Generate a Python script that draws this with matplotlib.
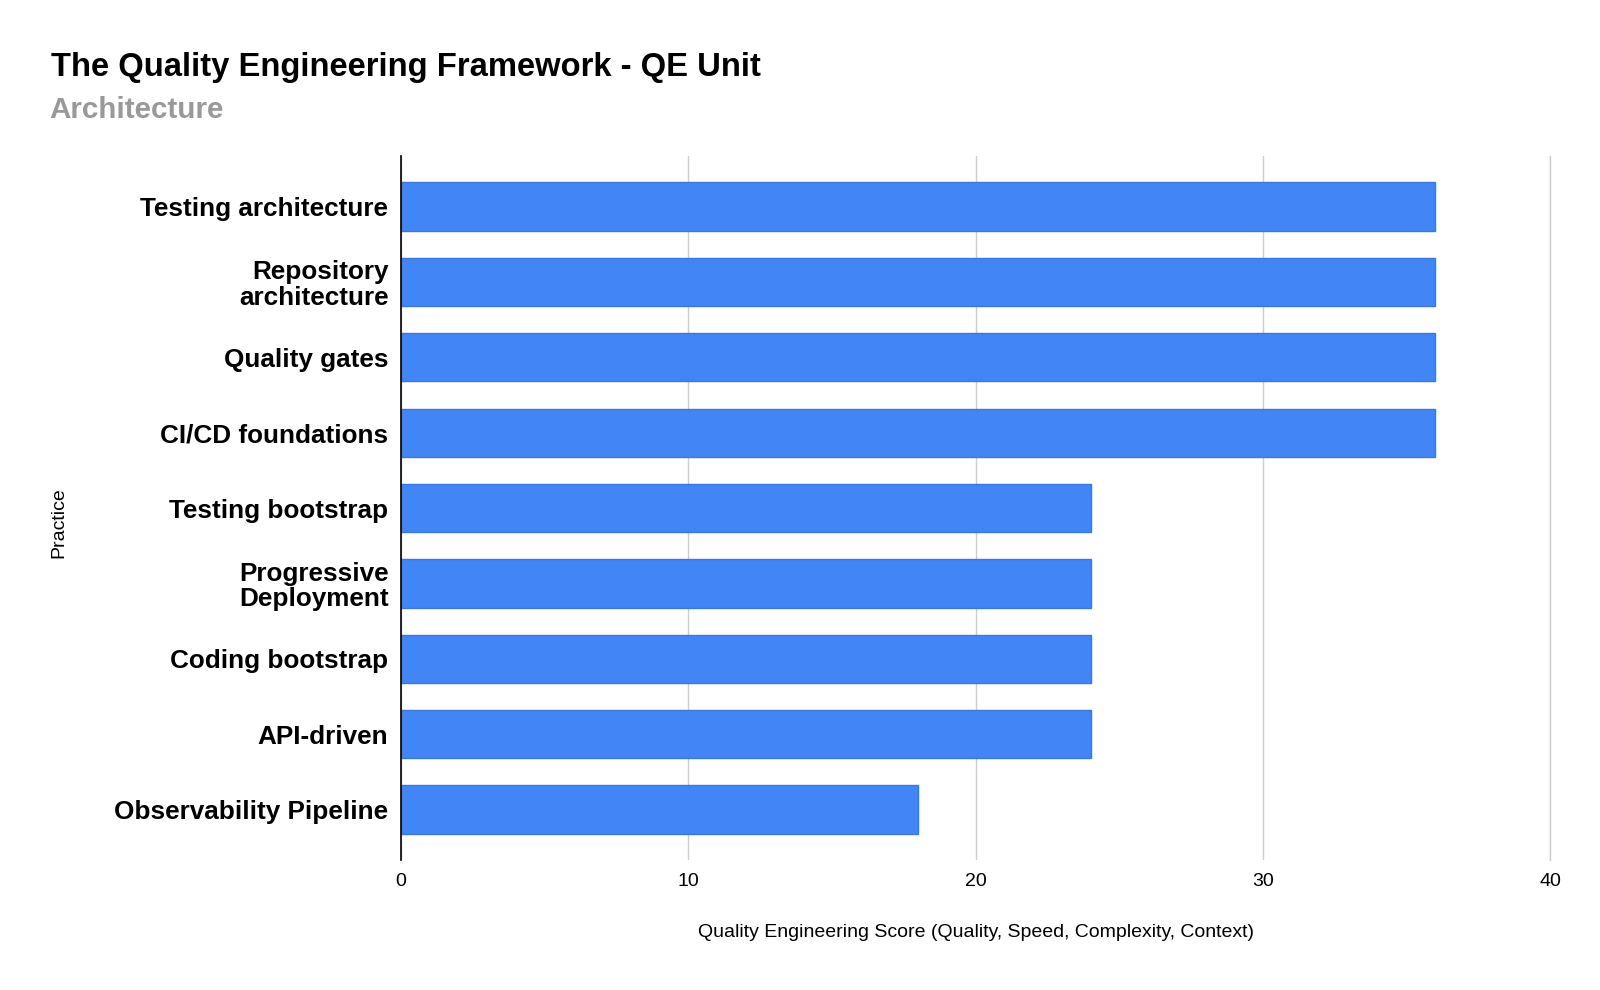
import matplotlib
matplotlib.use("Agg")
import matplotlib.pyplot as plt

plt.rcParams['font.family'] = ['Liberation Sans', 'DejaVu Sans']

# Practices and their scores
practices = [
    "Testing architecture",
    "Repository\narchitecture",
    "Quality gates",
    "CI/CD foundations",
    "Testing bootstrap",
    "Progressive\nDeployment",
    "Coding bootstrap",
    "API-driven",
    "Observability Pipeline",
]
scores = [36, 36, 36, 36, 24, 24, 24, 24, 18]
x_ticks = [0, 10, 20, 30, 40]

fig = plt.figure(figsize=(16, 9.9), dpi=100)
ax = fig.add_axes([0.2506, 0.1313, 0.7184, 0.7111])

ypos = list(range(len(practices)))
ax.barh(ypos, scores, height=0.64, color="#4285F4", edgecolor="#3a78e0",
        linewidth=1, zorder=3)

ax.set_ylim(len(practices) - 1 + 0.67, -0.67)
ax.set_xlim(0, 40)
ax.set_xticks(x_ticks)
ax.set_xticklabels([str(t) for t in x_ticks], fontsize=14)
ax.set_yticks(ypos)
ax.set_yticklabels(practices, fontsize=18.8, fontweight="bold",
                   linespacing=1.08)
ax.tick_params(axis="both", length=0)
ax.tick_params(axis="x", pad=9.5)
ax.tick_params(axis="y", pad=9)

ax.grid(axis="x", color="#cccccc", linewidth=1, zorder=0)
for s in ["top", "bottom"]:
    ax.spines[s].set_visible(False)
ax.spines["right"].set_color("#cccccc")
ax.spines["right"].set_linewidth(1)
ax.spines["left"].set_color("black")
ax.spines["left"].set_linewidth(1.2)
ax.spines["left"].set_zorder(4)

ax.set_xlabel("Quality Engineering Score (Quality, Speed, Complexity, Context)",
              fontsize=14, labelpad=24)
fig.text(0.037, 0.472, "Practice", rotation=90, fontsize=14,
         ha="center", va="center")

fig.text(0.032, 0.932, "The Quality Engineering Framework - QE Unit",
         fontsize=23.6, fontweight="bold", ha="left", va="center")
fig.text(0.031, 0.889, "Architecture", fontsize=21.3, fontweight="bold",
         color="#999999", ha="left", va="center")

fig.savefig("out.png", dpi=100)
